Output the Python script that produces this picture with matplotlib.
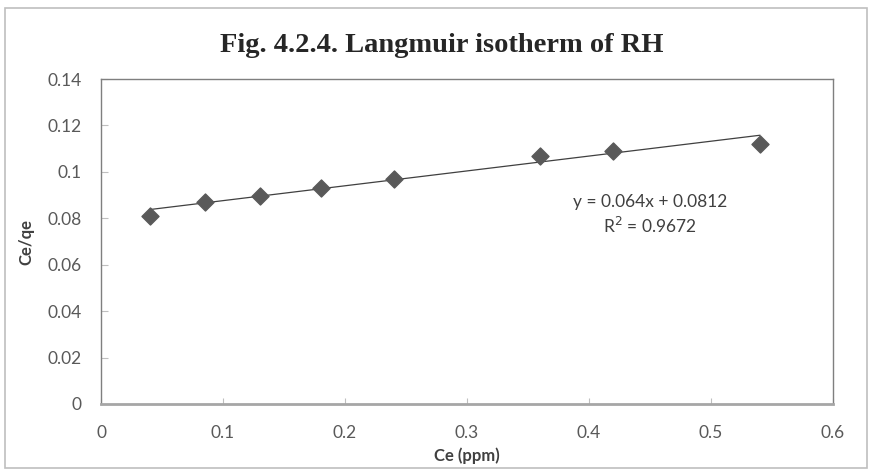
import matplotlib
matplotlib.use('Agg')
import matplotlib.pyplot as plt
from matplotlib.patches import Rectangle

ce = [0.04, 0.085, 0.13, 0.18, 0.24, 0.36, 0.42, 0.54]
ce_qe = [0.081, 0.087, 0.0895, 0.093, 0.097, 0.107, 0.109, 0.112]
slope = 0.064
intercept = 0.0812
xticks = [0, 0.1, 0.2, 0.3, 0.4, 0.5, 0.6]
xlabels = ['0', '0.1', '0.2', '0.3', '0.4', '0.5', '0.6']
yticks = [0, 0.02, 0.04, 0.06, 0.08, 0.1, 0.12, 0.14]
ylabels = ['0', '0.02', '0.04', '0.06', '0.08', '0.1', '0.12', '0.14']

plt.rcParams['font.family'] = ['Lato', 'DejaVu Sans']

fig = plt.figure(figsize=(8.72, 4.71), dpi=100)
fig.patches.append(Rectangle((0.006, 0.006), 0.988, 0.978, transform=fig.transFigure,
                             fill=False, edgecolor='#bfbfbf', linewidth=1.2))
ax = fig.add_axes([101 / 872, 1 - 404 / 471, (833 - 101) / 872, (404 - 79) / 471])

# linear trendline over the data range
fit_x = [min(ce), max(ce)]
fit_y = [slope * v + intercept for v in fit_x]
ax.plot(fit_x, fit_y, color='#404040', linewidth=0.9)
ax.scatter(ce, ce_qe, marker='D', s=75, color='#595959', zorder=3)

ax.set_xlim(0, 0.6)
ax.set_ylim(0, 0.14)
ax.set_xticks(xticks)
ax.set_xticklabels(xlabels)
ax.set_yticks(yticks)
ax.set_yticklabels(ylabels)
ax.tick_params(axis='x', direction='in', length=4, color='#bfbfbf', labelsize=12.5,
               labelcolor='#595959', pad=15)
ax.tick_params(axis='y', direction='in', length=5, color='#bfbfbf', labelsize=12.5,
               labelcolor='#595959', pad=14)
for side in ['left', 'right', 'top']:
    ax.spines[side].set_color('#7f7f7f')
    ax.spines[side].set_linewidth(1.0)
ax.spines['bottom'].set_color('#a6a6a6')
ax.spines['bottom'].set_linewidth(2.0)

ax.set_xlabel('Ce (ppm)', fontsize=12, fontweight='bold', color='#404040', labelpad=5)
ax.set_ylabel('Ce/qe', fontsize=12, fontweight='bold', color='#404040', labelpad=9)

fig.text(0.507, 0.903, 'Fig. 4.2.4. Langmuir isotherm of RH', ha='center', va='center',
         fontsize=20.5, fontweight='bold', family='Liberation Serif', color='#262626')

ax.text(0.45, 0.0815, 'y = 0.064x + 0.0812\nR$^2$ = 0.9672', ha='center', va='center',
        fontsize=12.5, color='#404040', linespacing=1.35)

fig.savefig('out.png', dpi=100)
